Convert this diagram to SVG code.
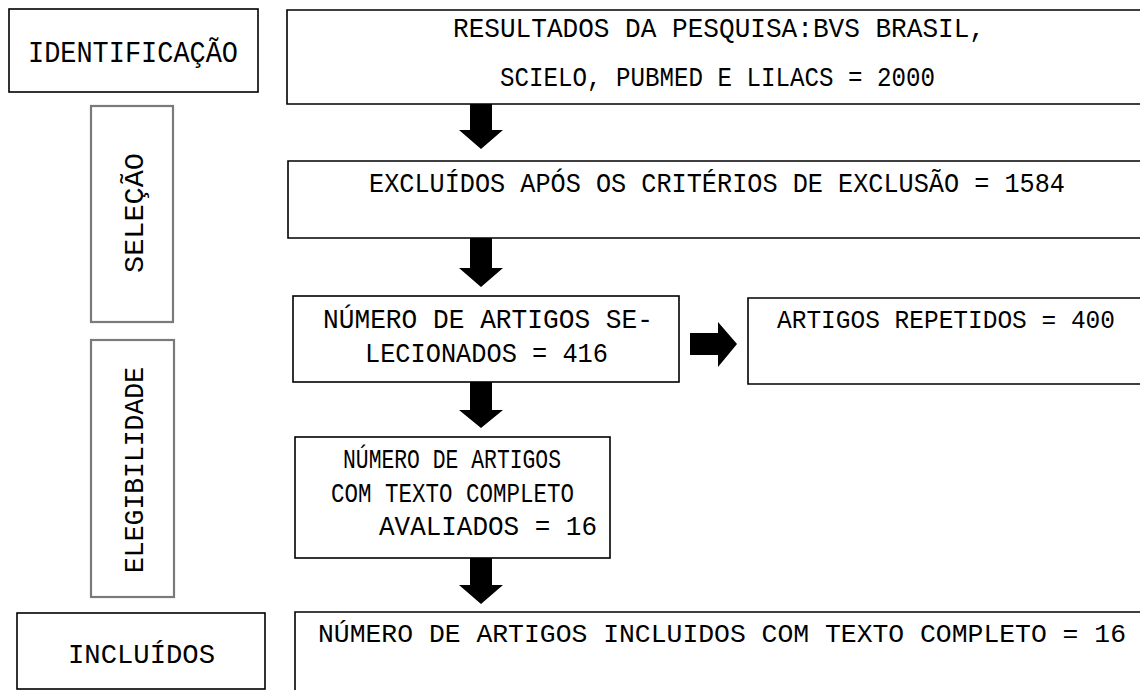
<svg xmlns="http://www.w3.org/2000/svg" width="1140" height="690" viewBox="0 0 1140 690">
<defs>
<style>
.box{fill:#fff;stroke:#000;stroke-width:1.6}
.side{fill:#fff;stroke:#7a7a7a;stroke-width:2.2}
.t{font-family:"Liberation Mono","Courier New",monospace;font-size:27px;fill:#000}
.arr{fill:#000;stroke:none}
</style>
</defs>
<rect width="1140" height="690" fill="#fff"/>
<g id="identificacao">
<rect class="box" x="9" y="9" width="249" height="83"/>
<text class="t" x="28" y="62" style="font-size:29px" textLength="210" lengthAdjust="spacingAndGlyphs">IDENTIFICAÇÃO</text>
</g>
<g id="resultados">
<path class="box" d="M1140,10 H287 V104 H1140"/>
<text class="t" x="453" y="37" textLength="532" lengthAdjust="spacingAndGlyphs">RESULTADOS DA PESQUISA:BVS BRASIL,</text>
<text class="t" x="500" y="86" textLength="435" lengthAdjust="spacingAndGlyphs">SCIELO, PUBMED E LILACS = 2000</text>
</g>
<g id="selecao">
<rect class="side" x="91" y="106" width="82" height="216"/>
<text class="t" transform="translate(143,273) rotate(-90)" x="0" y="0" textLength="120" lengthAdjust="spacingAndGlyphs">SELEÇÃO</text>
</g>
<g id="excluidos">
<path class="box" d="M1140,161 H288 V238 H1140"/>
<text class="t" x="369" y="192" textLength="696" lengthAdjust="spacingAndGlyphs">EXCLUÍDOS APÓS OS CRITÉRIOS DE EXCLUSÃO = 1584</text>
</g>
<g id="selecionados">
<rect class="box" x="293" y="296" width="386" height="86"/>
<text class="t" x="323" y="328" textLength="330" lengthAdjust="spacingAndGlyphs">NÚMERO DE ARTIGOS SE-</text>
<text class="t" x="365" y="362" textLength="243" lengthAdjust="spacingAndGlyphs">LECIONADOS = 416</text>
</g>
<g id="repetidos">
<path class="box" d="M1140,298 H748 V384 H1140"/>
<text class="t" x="777" y="328" style="font-size:25.5px" textLength="338" lengthAdjust="spacingAndGlyphs">ARTIGOS REPETIDOS = 400</text>
</g>
<g id="elegibilidade">
<rect class="side" x="91" y="340" width="83" height="257"/>
<text class="t" transform="translate(143,573) rotate(-90)" x="0" y="0" textLength="206" lengthAdjust="spacingAndGlyphs">ELEGIBILIDADE</text>
</g>
<g id="avaliados">
<rect class="box" x="295" y="437" width="315" height="121"/>
<text class="t" x="343" y="468" textLength="218" lengthAdjust="spacingAndGlyphs">NÚMERO DE ARTIGOS</text>
<text class="t" x="331" y="502" textLength="243" lengthAdjust="spacingAndGlyphs">COM TEXTO COMPLETO</text>
<text class="t" x="379" y="535" textLength="218" lengthAdjust="spacingAndGlyphs">AVALIADOS = 16</text>
</g>
<g id="incluidos">
<rect class="box" x="17" y="613" width="248" height="76"/>
<text class="t" x="68" y="663" textLength="147" lengthAdjust="spacingAndGlyphs">INCLUÍDOS</text>
</g>
<g id="final">
<path class="box" d="M1140,612 H295 V690"/>
<text class="t" x="318" y="642" style="font-size:25.5px" textLength="808" lengthAdjust="spacingAndGlyphs">NÚMERO DE ARTIGOS INCLUIDOS COM TEXTO COMPLETO = 16</text>
</g>
<g id="connectors">
<polygon class="arr" points="470,104 492,104 492,130 503,130 481,149 459,130 470,130"/>
<polygon class="arr" points="470,238 492,238 492,268 503,268 481,287 459,268 470,268"/>
<polygon class="arr" points="470,382 492,382 492,410 503,410 481,428 459,410 470,410"/>
<polygon class="arr" points="470,558 492,558 492,585 503,585 481,604 459,585 470,585"/>
<polygon class="arr" points="690,333 718,333 718,322 737,344 718,367 718,355 690,355"/>
</g>
</svg>
